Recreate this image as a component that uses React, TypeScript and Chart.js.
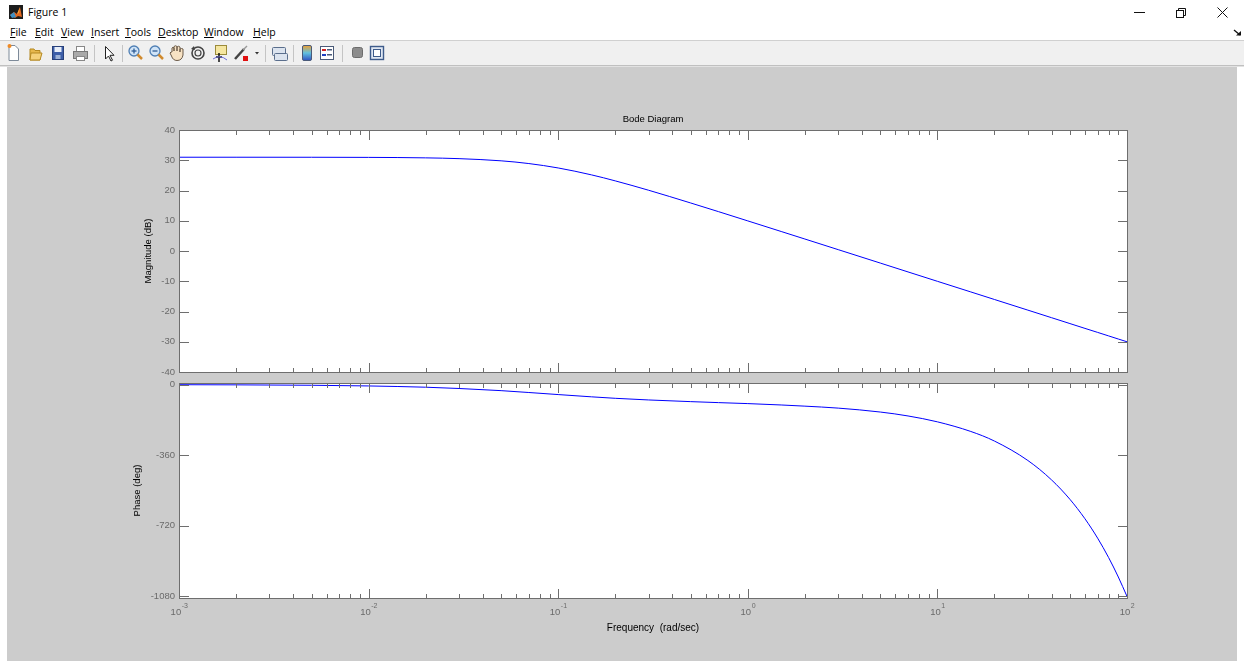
import React, { useEffect, useRef } from 'react';
import { Chart, registerables } from 'chart.js';

Chart.register(...registerables);

// ---------- data ----------
const FREQ_RAD_S = [0.001, 0.002, 0.005, 0.01, 0.02, 0.03, 0.05, 0.07, 0.1, 0.15, 0.2, 0.3, 0.5, 0.7, 1, 1.5, 2, 3, 5, 7, 10, 15, 20, 30, 40, 50, 60, 70, 80, 90, 100];
const MAGNITUDE_DB = [31.0, 31.0, 30.99, 30.95, 30.79, 30.53, 29.81, 28.91, 27.45, 25.16, 23.18, 20.08, 15.87, 13.02, 9.95, 6.45, 3.96, 0.44, -3.99, -6.92, -10.02, -13.53, -16.03, -19.55, -22.05, -23.99, -25.58, -26.91, -28.07, -29.1, -30.01];
const PHASE_DEG = [-0.7, -1.4, -3.5, -7, -13.5, -20, -31, -40.5, -51, -62.5, -70, -78.5, -87, -92, -97, -104, -110, -120, -140, -160, -190, -239, -288, -387, -486, -585, -684, -783, -882, -981, -1080];

const MAG_TICKS = [-40, -30, -20, -10, 0, 10, 20, 30, 40];
const PHASE_TICKS = [-1080, -720, -360, 0];
const DECADE_EXPONENTS = [-3, -2, -1, 0, 1, 2];
const MINOR_MULTIPLIERS = [2, 3, 4, 5, 6, 7, 8, 9];

const CHART_TITLE = 'Bode Diagram';
const MAG_LABEL = 'Magnitude (dB)';
const PHASE_LABEL = 'Phase (deg)';
const FREQ_LABEL = 'Frequency  (rad/sec)';
const WINDOW_TITLE = 'Figure 1';
const MENU_ITEMS = ['File', 'Edit', 'View', 'Insert', 'Tools', 'Desktop', 'Window', 'Help'];
const MENU_X = [10, 35, 61, 91, 125, 158, 204, 253];

// ---------- styles ----------
const FONT = '"Liberation Sans", Arial, Helvetica, sans-serif';
const UI_FONT = '"Open Sans", "Noto Sans", sans-serif';
const AXIS_COLOR = '#6e6e6e';
const TICK_LABEL_COLOR = '#6a6a6a';
const LINE_COLOR = '#0000ff';

function zeroPadding(s: any) {
  s.paddingTop = 0;
  s.paddingBottom = 0;
  s.paddingLeft = 0;
  s.paddingRight = 0;
}

function matlabAxesPlugin(drawXLabels: boolean) {
  return {
    id: 'matlabAxes' + (drawXLabels ? 'B' : 'T'),
    beforeDraw(chart: any) {
      const { ctx, chartArea: a } = chart;
      ctx.save();
      ctx.fillStyle = '#ffffff';
      ctx.fillRect(a.left, a.top, a.right - a.left, a.bottom - a.top);
      ctx.restore();
    },
    afterDatasetsDraw(chart: any) {
      const { ctx, chartArea: a } = chart;
      const xs = chart.scales.x;
      const ys = chart.scales.y;
      ctx.save();
      ctx.strokeStyle = AXIS_COLOR;
      ctx.lineWidth = 1;
      // box
      ctx.strokeRect(a.left + 0.5, a.top + 0.5, a.right - a.left, a.bottom - a.top);
      // x ticks (inward, top and bottom)
      const xTicks: { v: number; major: boolean }[] = [];
      DECADE_EXPONENTS.forEach((e, i) => {
        xTicks.push({ v: Math.pow(10, e), major: true });
        if (i < DECADE_EXPONENTS.length - 1) {
          MINOR_MULTIPLIERS.forEach((m) => xTicks.push({ v: m * Math.pow(10, e), major: false }));
        }
      });
      ctx.beginPath();
      xTicks.forEach((t) => {
        const px = Math.round(xs.getPixelForValue(t.v)) + 0.5;
        const len = t.major ? 10 : 5;
        ctx.moveTo(px, a.top);
        ctx.lineTo(px, a.top + len);
        ctx.moveTo(px, a.bottom + 1);
        ctx.lineTo(px, a.bottom + 1 - len);
      });
      // y ticks (inward, left and right)
      ys.ticks.forEach((t: any) => {
        const py = Math.round(ys.getPixelForValue(t.value)) + 0.5;
        ctx.moveTo(a.left, py);
        ctx.lineTo(a.left + 10, py);
        ctx.moveTo(a.right + 1, py);
        ctx.lineTo(a.right + 1 - 10, py);
      });
      ctx.stroke();

      if (drawXLabels) {
        ctx.fillStyle = TICK_LABEL_COLOR;
        ctx.textBaseline = 'alphabetic';
        ctx.textAlign = 'left';
        DECADE_EXPONENTS.forEach((e) => {
          const px = xs.getPixelForValue(Math.pow(10, e));
          const base = '10';
          const exp = String(e);
          ctx.font = `9.5px ${FONT}`;
          const w1 = ctx.measureText(base).width;
          ctx.font = `7px ${FONT}`;
          const w2 = ctx.measureText(exp).width;
          const start = px - (w1 + w2) / 2;
          ctx.font = `9.5px ${FONT}`;
          ctx.fillText(base, start, a.bottom + 17);
          ctx.font = `7px ${FONT}`;
          ctx.fillText(exp, start + w1 + 0.5, a.bottom + 10);
        });
      }
      ctx.restore();
    },
  };
}

function yScale(min: number, max: number, ticks: number[], label: string, titlePad: number) {
  return {
    type: 'linear',
    position: 'left',
    min,
    max,
    afterBuildTicks: (s: any) => {
      s.ticks = ticks.map((v) => ({ value: v }));
    },
    afterFit: (s: any) => {
      s.width = 179;
      zeroPadding(s);
    },
    grid: { display: false, drawTicks: false },
    border: { display: false },
    ticks: {
      color: TICK_LABEL_COLOR,
      font: { family: FONT, size: 9.5 },
      padding: 4,
      callback: (v: any) => String(v),
    },
    title: {
      display: true,
      text: label,
      color: '#000000',
      font: { family: FONT, size: 9.5 },
      padding: { top: titlePad, bottom: 0 },
    },
  };
}

function makeMagConfig(): any {
  return {
    type: 'line',
    data: {
      datasets: [
        {
          data: FREQ_RAD_S.map((f, i) => ({ x: f, y: MAGNITUDE_DB[i] })),
          borderColor: LINE_COLOR,
          borderWidth: 1,
          pointRadius: 0,
          cubicInterpolationMode: 'monotone',
          fill: false,
          xAxisID: 'x',
          yAxisID: 'y',
        },
      ],
    },
    options: {
      animation: false,
      responsive: false,
      events: [],
      layout: { padding: { left: 0, right: 117, top: 0, bottom: 8 } },
      plugins: { legend: { display: false }, tooltip: { enabled: false }, title: { display: false } },
      scales: {
        x: { type: 'logarithmic', min: 0.001, max: 100, display: false },
        xTitle: {
          type: 'linear',
          axis: 'x',
          position: 'top',
          min: 0,
          max: 1,
          grid: { display: false, drawTicks: false },
          border: { display: false },
          ticks: { display: false },
          title: {
            display: true,
            text: CHART_TITLE,
            color: '#000000',
            font: { family: FONT, size: 9.5 },
            padding: { top: 46.3, bottom: 0 },
          },
          afterFit: (s: any) => {
            s.height = 63;
            zeroPadding(s);
          },
        },
        y: yScale(-40, 40, MAG_TICKS, MAG_LABEL, 142.8),
      },
    },
    plugins: [matlabAxesPlugin(false)],
  };
}

function makePhaseConfig(): any {
  return {
    type: 'line',
    data: {
      datasets: [
        {
          data: FREQ_RAD_S.map((f, i) => ({ x: f, y: PHASE_DEG[i] })),
          borderColor: LINE_COLOR,
          borderWidth: 1,
          pointRadius: 0,
          cubicInterpolationMode: 'monotone',
          fill: false,
          xAxisID: 'x',
          yAxisID: 'y',
        },
      ],
    },
    options: {
      animation: false,
      responsive: false,
      events: [],
      layout: { padding: { left: 0, right: 117, top: 3, bottom: 0 } },
      plugins: { legend: { display: false }, tooltip: { enabled: false }, title: { display: false } },
      scales: {
        x: {
          type: 'logarithmic',
          position: 'bottom',
          min: 0.001,
          max: 100,
          grid: { display: false, drawTicks: false },
          border: { display: false },
          ticks: { display: false },
          title: {
            display: true,
            text: FREQ_LABEL,
            color: '#000000',
            font: { family: FONT, size: 10 },
            padding: { top: 0, bottom: 27 },
          },
          afterFit: (s: any) => {
            s.height = 63;
            zeroPadding(s);
          },
        },
        y: yScale(-1088, 8, PHASE_TICKS, PHASE_LABEL, 131.7),
      },
    },
    plugins: [matlabAxesPlugin(true)],
  };
}

function BodeCharts() {
  const magRef = useRef<HTMLCanvasElement>(null);
  const phaseRef = useRef<HTMLCanvasElement>(null);
  useEffect(() => {
    const mag = new Chart(magRef.current as HTMLCanvasElement, makeMagConfig());
    const phase = new Chart(phaseRef.current as HTMLCanvasElement, makePhaseConfig());
    return () => {
      mag.destroy();
      phase.destroy();
    };
  }, []);
  return (
    <>
      <canvas
        ref={magRef}
        width={1244}
        height={313}
        style={{ position: 'absolute', left: 0, top: 67, width: 1244, height: 313, display: 'block' }}
      />
      <canvas
        ref={phaseRef}
        width={1244}
        height={281}
        style={{ position: 'absolute', left: 0, top: 380, width: 1244, height: 281, display: 'block' }}
      />
    </>
  );
}

function Sep({ x }: { x: number }) {
  return <line x1={x + 0.5} y1={4} x2={x + 0.5} y2={21} stroke="#c4c4c4" strokeWidth={1} />;
}

function ToolbarIcons() {
  return (
    <svg width={400} height={24} style={{ position: 'absolute', left: 0, top: 41 }}>
      {/* new */}
      <path d="M9 4.5 H15 L18.5 8 V19.5 H9 Z" fill="#fff" stroke="#7d8a99" />
      <circle cx={9.5} cy={5} r={2} fill="#f08a24" />
      {/* open */}
      <path d="M30 8 H34 L35 9.5 H40 V19 H30 Z" fill="#e7b84c" stroke="#b58922" />
      <path d="M31 12 H42 L40 19 H30 Z" fill="#f5d17a" stroke="#b58922" />
      {/* save */}
      <rect x={52.5} y={5.5} width={11} height={13} fill="#3d5ea8" stroke="#28407a" />
      <rect x={54.5} y={6} width={7} height={5} fill="#e8eef8" />
      <rect x={55.5} y={14} width={5} height={4} fill="#9fb3d6" />
      {/* print */}
      <rect x={76.5} y={5.5} width={8} height={5} fill="#fff" stroke="#888" />
      <rect x={73.5} y={10.5} width={14} height={7} fill="#a9a9a9" stroke="#777" />
      <rect x={76.5} y={15.5} width={8} height={4} fill="#fff" stroke="#888" />
      <Sep x={94} />
      {/* pointer */}
      <path d="M105.5 5.5 V18 L108.5 15 L111 20 L112.5 19.2 L110 14.3 H114 Z" fill="#fff" stroke="#222" />
      <Sep x={122} />
      {/* zoom in */}
      <circle cx={134} cy={10} r={5} fill="#cfe3f7" stroke="#4f7fb4" strokeWidth={1.3} />
      <line x1={131.5} y1={10} x2={136.5} y2={10} stroke="#2d5c96" strokeWidth={1.3} />
      <line x1={134} y1={7.5} x2={134} y2={12.5} stroke="#2d5c96" strokeWidth={1.3} />
      <line x1={137.5} y1={13.5} x2={142} y2={18} stroke="#d08a2e" strokeWidth={2.5} />
      {/* zoom out */}
      <circle cx={155} cy={10} r={5} fill="#cfe3f7" stroke="#4f7fb4" strokeWidth={1.3} />
      <line x1={152.5} y1={10} x2={157.5} y2={10} stroke="#2d5c96" strokeWidth={1.3} />
      <line x1={158.5} y1={13.5} x2={163} y2={18} stroke="#d08a2e" strokeWidth={2.5} />
      {/* pan */}
      <path d="M172 11 V7 Q173 5.5 174 7 V10 V5.5 Q175.5 4 177 5.5 V10 V6 Q178.5 4.5 180 6 V11 V8 Q181.5 7 183 8 V14 Q182 19.5 177 19.5 Q173 19.5 171.5 15 L170 12 Q171 10.5 172 11 Z" fill="#f7e2c4" stroke="#6b5a48" />
      {/* rotate */}
      <circle cx={198} cy={12} r={6} fill="none" stroke="#444" strokeWidth={1.6} />
      <circle cx={198} cy={12} r={3} fill="none" stroke="#444" strokeWidth={1.2} />
      <path d="M191 8 L194 5 L195 9 Z" fill="#444" />
      {/* data cursor */}
      <rect x={215.5} y={4.5} width={11} height={9} fill="#f5e6a0" stroke="#9b8b3a" />
      <line x1={216} y1={16} x2={222} y2={16} stroke="#111" strokeWidth={1.5} />
      <line x1={219} y1={12} x2={219} y2={21} stroke="#111" strokeWidth={1.5} />
      <path d="M213 18 Q220 13 227 19" fill="none" stroke="#6a6ad8" />
      {/* brush */}
      <line x1={235} y1={18} x2={244} y2={8} stroke="#444" strokeWidth={2.5} />
      <line x1={243} y1={9} x2={247} y2={5} stroke="#999" strokeWidth={1.5} />
      <rect x={243} y={15} width={5} height={5} fill="#e01010" />
      <path d="M255 11 H259 L257 13.5 Z" fill="#333" />
      <Sep x={265} />
      {/* link */}
      <rect x={272.5} y={6.5} width={13} height={8} rx={1} fill="#dbe3ee" stroke="#5a6e8c" />
      <rect x={274.5} y={12.5} width={13} height={7} rx={1} fill="#dbe3ee" stroke="#5a6e8c" />
      <Sep x={293} />
      {/* colorbar */}
      <defs>
        <linearGradient id="cb" x1="0" y1="0" x2="0" y2="1">
          <stop offset="0" stopColor="#f0a030" />
          <stop offset="0.5" stopColor="#60c0e0" />
          <stop offset="1" stopColor="#3050c0" />
        </linearGradient>
      </defs>
      <rect x={302.5} y={4.5} width={9} height={15} rx={1.5} fill="url(#cb)" stroke="#4a5a78" />
      {/* legend */}
      <rect x={320.5} y={5.5} width={13} height={13} fill="#fff" stroke="#4a5a78" />
      <rect x={322} y={8} width={4} height={2} fill="#d02020" />
      <rect x={327} y={8} width={5} height={1.5} fill="#4a5a78" />
      <rect x={322} y={13} width={4} height={2} fill="#2040c0" />
      <rect x={327} y={13} width={5} height={1.5} fill="#4a5a78" />
      <Sep x={342} />
      {/* hide/show */}
      <rect x={352.5} y={6.5} width={10} height={10} rx={2} fill="#8c8c8c" stroke="#6c6c6c" />
      <rect x={370.5} y={5.5} width={13} height={13} fill="#dfe7f2" stroke="#3e5b8a" strokeWidth={1.4} />
      <rect x={373.5} y={8.5} width={7} height={7} fill="#fff" stroke="#3e5b8a" />
    </svg>
  );
}

function WindowChrome() {
  return (
    <>
      {/* title bar */}
      <svg width={16} height={16} style={{ position: 'absolute', left: 8, top: 4 }}>
        <rect x={1} y={1} width={14} height={14} fill="#1c1c1c" />
        <path d="M2 11 L6 8 L9 10 L12 3 L14 13 L10 12 L7 14 Z" fill="#e2661c" />
        <path d="M2 11 L6 8 L8 13 L4 14 Z" fill="#3d8fc4" />
        <path d="M9 10 L12 3 L11 9 Z" fill="#f7a23a" />
      </svg>
      <div
        style={{
          position: 'absolute',
          left: 28,
          top: 4,
          fontFamily: UI_FONT,
          fontSize: 10.5,
          lineHeight: '16px',
          color: '#000',
          whiteSpace: 'nowrap',
        }}
      >
        {WINDOW_TITLE}
      </div>
      <svg width={120} height={24} style={{ position: 'absolute', left: 1124, top: 0 }}>
        <line x1={10} y1={12.5} x2={21} y2={12.5} stroke="#111" />
        <rect x={52.5} y={10.5} width={7} height={7} fill="none" stroke="#111" />
        <path d="M54.5 10.5 V8.5 H61.5 V15.5 H59.5" fill="none" stroke="#111" />
        <line x1={93.5} y1={7.5} x2={103.5} y2={17.5} stroke="#111" />
        <line x1={103.5} y1={7.5} x2={93.5} y2={17.5} stroke="#111" />
      </svg>
      {/* menu bar */}
      {MENU_ITEMS.map((m, i) => (
        <div
          key={m}
          style={{
            position: 'absolute',
            left: MENU_X[i],
            top: 25,
            fontFamily: UI_FONT,
            fontSize: 10.5,
            lineHeight: '15px',
            color: '#000',
            whiteSpace: 'nowrap',
          }}
        >
          <span style={{ textDecoration: 'underline' }}>{m[0]}</span>
          {m.slice(1)}
        </div>
      ))}
      <svg width={10} height={8} style={{ position: 'absolute', left: 1233, top: 29 }}>
        <path d="M1 1 L7 6" stroke="#111" strokeWidth={1.3} />
        <path d="M3 6.5 H8 V2 Z" fill="#111" />
      </svg>
      {/* toolbar */}
      <div
        style={{
          position: 'absolute',
          left: 0,
          top: 40,
          width: 1244,
          height: 25,
          background: '#f0f0f0',
          borderTop: '1px solid #d0d0d0',
          boxSizing: 'border-box',
        }}
      />
      <div style={{ position: 'absolute', left: 0, top: 65, width: 1244, height: 1, background: '#c0c0c0' }} />
      <div style={{ position: 'absolute', left: 0, top: 66, width: 1244, height: 1, background: '#e2e2e2' }} />
      <ToolbarIcons />
    </>
  );
}

export default function App() {
  return (
    <div
      style={{
        position: 'absolute',
        left: 0,
        top: 0,
        width: 1244,
        height: 661,
        background: '#ffffff',
        overflow: 'hidden',
      }}
    >
      <WindowChrome />
      <div style={{ position: 'absolute', left: 7, top: 67, width: 1230, height: 594, background: '#cccccc' }} />
      <BodeCharts />
    </div>
  );
}
